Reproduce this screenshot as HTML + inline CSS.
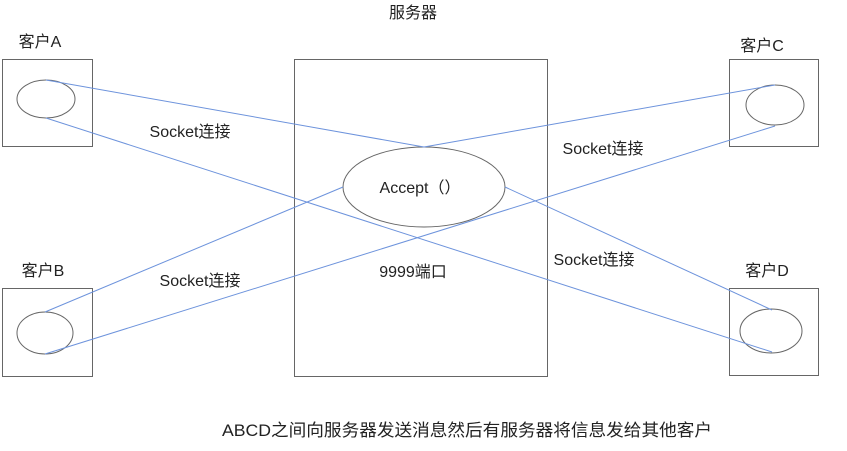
<!DOCTYPE html>
<html><head><meta charset="utf-8"><style>
html,body{margin:0;padding:0;background:#fff;}
svg{display:block;}
text{font-family:"Liberation Sans","Noto Sans CJK SC",sans-serif;fill:#222;font-size:16px;}
</style></head><body>
<svg width="847" height="451" viewBox="0 0 847 451" xmlns="http://www.w3.org/2000/svg">
<g fill="none" stroke="#666" stroke-width="1">
<rect x="2.5" y="59.5" width="90" height="87"/>
<rect x="294.5" y="59.5" width="253" height="317"/>
<rect x="2.5" y="288.5" width="90" height="88"/>
<rect x="729.5" y="59.5" width="89" height="87"/>
<rect x="729.5" y="288.5" width="89" height="87"/>
<ellipse cx="46" cy="99" rx="29" ry="19"/>
<ellipse cx="424" cy="187" rx="81" ry="40"/>
<ellipse cx="45" cy="333" rx="28" ry="21"/>
<ellipse cx="775" cy="105" rx="29" ry="20"/>
<ellipse cx="771" cy="331" rx="31" ry="22"/>
</g>
<g stroke="#6d93dc" stroke-width="1" fill="none">
<line x1="46" y1="80" x2="424" y2="147"/>
<line x1="424" y1="147" x2="775" y2="85"/>
<line x1="46" y1="118" x2="772" y2="352"/>
<line x1="505" y1="187" x2="772" y2="310"/>
<line x1="45" y1="312" x2="343" y2="187"/>
<line x1="45" y1="354" x2="775" y2="126"/>
</g>
<text x="413" y="18" text-anchor="middle">服务器</text>
<text x="40" y="47" text-anchor="middle">客户A</text>
<text x="43" y="276" text-anchor="middle">客户B</text>
<text x="762" y="51" text-anchor="middle">客户C</text>
<text x="767" y="276" text-anchor="middle">客户D</text>
<text x="190" y="137" text-anchor="middle">Socket连接</text>
<text x="603" y="154" text-anchor="middle">Socket连接</text>
<text x="200" y="286" text-anchor="middle">Socket连接</text>
<text x="594" y="265" text-anchor="middle">Socket连接</text>
<text x="420" y="193" text-anchor="middle">Accept（）</text>
<text x="413" y="277" text-anchor="middle">9999端口</text>
<text x="222" y="436" textLength="490" lengthAdjust="spacingAndGlyphs" style="font-size:17px">ABCD之间向服务器发送消息然后有服务器将信息发给其他客户</text>
</svg>
</body></html>
